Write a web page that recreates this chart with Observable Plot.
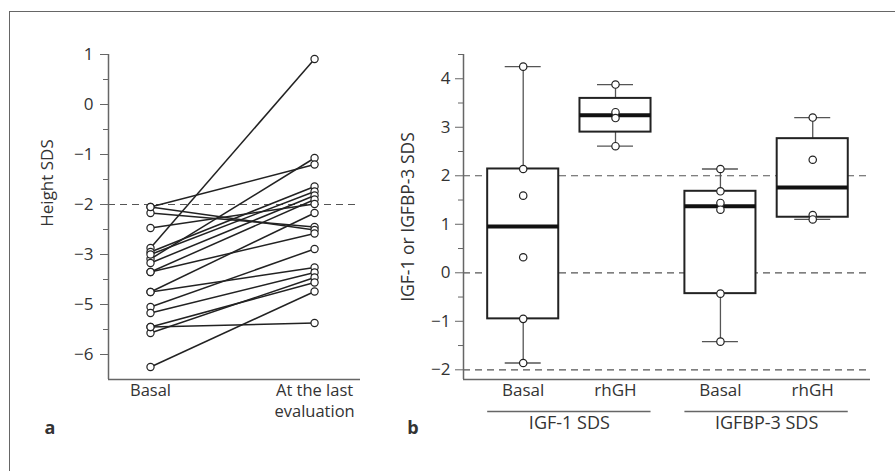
<!DOCTYPE html>
<html><head><meta charset="utf-8">
<script src="https://cdn.jsdelivr.net/npm/d3@7"></script>
<script src="https://cdn.jsdelivr.net/npm/@observablehq/plot@0.6"></script>
<style>
body{margin:0;background:#fff;}
#fig{position:relative;width:895px;height:471px;font-family:"Open Sans",sans-serif;color:#333;overflow:hidden;background:#fff;}
#fig .frame{position:absolute;left:9px;top:11px;right:-10px;bottom:-10px;border-left:1px solid #666;border-top:1px solid #666;}
.panel{position:absolute;top:0;}
.tag{position:absolute;font-weight:bold;font-size:18px;line-height:18px;transform:translate(-50%,-50%);}
</style></head><body>
<div id="fig"><div class="frame"></div></div>
<script>
// ---------- Panel a data ----------
const stages = ["Basal", "At the last evaluation"];
const heightBasal = [-2.87, -3.09, -2.05, -2.95, -3.00, -3.17, -3.35, -2.47, -3.75, -2.17, -2.05, -3.35, -4.05, -3.75, -4.17, -4.57, -4.45, -5.25, -4.45];
const heightLast  = [ 0.91, -1.07, -1.20, -1.64, -1.74, -1.82, -1.90, -1.99, -2.17, -2.45, -2.51, -2.58, -2.89, -3.26, -3.36, -3.46, -3.56, -3.74, -4.37];
const heightTicks = [1, 0, -1, -2, -3, -4, -5];
const heightTickLabels = ["1", "0", "−1", "−2", "−3", "−5", "−6"];
const heightMinorTicks = [0.5, -0.5, -1.5, -2.5, -3.5, -4.5];
const heightRef = [-2];
const heightTitle = "Height SDS";

// ---------- Panel b data ----------
const groups = ["IGF-1 SDS", "IGFBP-3 SDS"];
const conditions = ["Basal", "rhGH"];
const igf1Basal   = [4.25, 2.14, 1.59, 0.32, -0.95, -1.86];
const igf1RhGH    = [3.88, 3.31, 3.19, 2.61];
const igfbp3Basal = [2.14, 1.68, 1.44, 1.30, -0.43, -1.42];
const igfbp3RhGH  = [3.20, 2.33, 1.19, 1.10];
const sdsTicks = [-2, -1, 0, 1, 2, 3, 4];
const sdsMinorTicks = [-1.5, -0.5, 0.5, 1.5, 2.5, 3.5, 4.5];
const sdsRef = [-2, 0, 2];
const sdsTitle = "IGF-1 or IGFBP-3 SDS";

const minus = d => (d < 0 ? "\u2212" + Math.abs(d) : String(d));
const FONT = '"Open Sans", sans-serif';
const AX = "#666", INK = "#222", TXT = "#333";

// ---------- Panel a ----------
const pairs = heightBasal.map((b, i) => ({basal: b, last: heightLast[i]}));
const pts = pairs.flatMap(p => [{stage: 0, v: p.basal}, {stage: 1, v: p.last}]);
// split long stage labels into two lines (last word on the second line)
const stageLines = stages.map((s, i) => {
  const w = s.split(" ");
  return w.length > 2 ? {i, l1: w.slice(0, -1).join(" "), l2: w[w.length - 1]} : {i, l1: s, l2: ""};
});
const xA = [-0.256, 1.28], yA = [-5.5, 1];

const plotA = Plot.plot({
  width: 380, height: 471,
  marginLeft: 108, marginRight: 20, marginTop: 54, marginBottom: 92,
  style: {fontFamily: FONT, fontSize: "17px", color: TXT, background: "transparent"},
  x: {domain: xA, axis: null},
  y: {domain: yA, axis: null},
  marks: [
    Plot.ruleY(heightRef, {stroke: "#555", strokeWidth: 1.2, strokeDasharray: "7,5"}),
    Plot.ruleX([xA[0]], {stroke: AX, strokeWidth: 1.5}),
    Plot.ruleY([yA[0]], {stroke: AX, strokeWidth: 1.5}),
    Plot.axisY({ticks: heightTicks, tickFormat: d => heightTickLabels[heightTicks.indexOf(d)], tickSize: 8, tickPadding: 7, stroke: AX, fill: TXT, label: null, fontSize: 17}),
    Plot.axisY({ticks: heightMinorTicks, tickFormat: () => "", tickSize: 5, stroke: AX, label: null}),
    Plot.link(pairs, {x1: () => 0, y1: "basal", x2: () => 1, y2: "last", stroke: INK, strokeWidth: 1.5}),
    Plot.dot(pts, {x: "stage", y: "v", r: 3.6, fill: "white", stroke: INK, strokeWidth: 1.2}),
    Plot.text(stageLines, {x: "i", frameAnchor: "bottom", text: "l1", fontSize: 16.5, fill: TXT, dy: 16}),
    Plot.text(stageLines, {x: "i", frameAnchor: "bottom", text: "l2", fontSize: 16.5, fill: TXT, dy: 37}),
    Plot.text([heightTitle], {frameAnchor: "left", textAnchor: "middle", rotate: -90, dx: -61, dy: -34, text: d => d, fontSize: 17, fill: TXT})
  ]
});
plotA.classList.add("panel");
plotA.style.left = "0px";
document.getElementById("fig").appendChild(plotA);

// ---------- Panel b ----------
function hinges(values) {
  const v = values.slice().sort(d3.ascending), n = v.length;
  return {
    min: v[0], max: v[n - 1],
    q1: d3.median(v.slice(0, Math.ceil(n / 2))),
    median: d3.median(v),
    q3: d3.median(v.slice(Math.floor(n / 2)))
  };
}
const groupGap = 0.137, boxHalf = 0.385, capHalf = 0.195;
const series = [[igf1Basal, igf1RhGH], [igfbp3Basal, igfbp3RhGH]];
const boxes = [];
const dots = [];
series.forEach((grp, gi) => grp.forEach((vals, si) => {
  const slot = gi * (2 + groupGap) + si;
  boxes.push({group: groups[gi], cond: conditions[si], slot, ...hinges(vals)});
  vals.forEach(v => dots.push({slot, v}));
}));
const groupSpans = groups.map((g, gi) => {
  const s = boxes.filter(b => b.group === g).map(b => b.slot);
  return {group: g, x1: d3.min(s) - boxHalf, x2: d3.max(s) + boxHalf, cx: (d3.min(s) + d3.max(s)) / 2};
});
const xB = [-0.647, 3.763], yB = [-2.2, 4.5];

const plotB = Plot.plot({
  width: 515, height: 471,
  marginLeft: 83, marginRight: 25, marginTop: 54, marginBottom: 92,
  style: {fontFamily: FONT, fontSize: "17px", color: TXT, background: "transparent"},
  x: {domain: xB, axis: null},
  y: {domain: yB, axis: null},
  marks: [
    Plot.ruleY(sdsRef, {stroke: "#555", strokeWidth: 1.2, strokeDasharray: "7,5"}),
    Plot.ruleX([xB[0]], {stroke: AX, strokeWidth: 1.5}),
    Plot.ruleY([yB[0]], {stroke: AX, strokeWidth: 1.5}),
    Plot.axisY({ticks: sdsTicks, tickFormat: minus, tickSize: 8, tickPadding: 5, stroke: AX, fill: TXT, label: null, fontSize: 17}),
    Plot.axisY({ticks: sdsMinorTicks, tickFormat: () => "", tickSize: 5, stroke: AX, label: null}),
    Plot.ruleX(boxes, {x: "slot", y1: "min", y2: "q1", stroke: "#555", strokeWidth: 1.3}),
    Plot.ruleX(boxes, {x: "slot", y1: "q3", y2: "max", stroke: "#555", strokeWidth: 1.3}),
    Plot.ruleY(boxes, {y: "min", x1: d => d.slot - capHalf, x2: d => d.slot + capHalf, stroke: "#555", strokeWidth: 1.3}),
    Plot.ruleY(boxes, {y: "max", x1: d => d.slot - capHalf, x2: d => d.slot + capHalf, stroke: "#555", strokeWidth: 1.3}),
    Plot.rect(boxes, {x1: d => d.slot - boxHalf, x2: d => d.slot + boxHalf, y1: "q1", y2: "q3", fill: "white", stroke: INK, strokeWidth: 2}),
    Plot.ruleY(boxes, {y: "median", x1: d => d.slot - boxHalf, x2: d => d.slot + boxHalf, stroke: "#111", strokeWidth: 4}),
    Plot.dot(dots, {x: "slot", y: "v", r: 3.7, fill: "white", stroke: INK, strokeWidth: 1.2}),
    Plot.text(boxes, {x: "slot", frameAnchor: "bottom", dy: 16, text: "cond", fontSize: 17, fill: TXT}),
    Plot.ruleY(groupSpans, {y: () => yB[0], x1: "x1", x2: "x2", dy: 32, stroke: AX, strokeWidth: 1.3}),
    Plot.text(groupSpans, {x: "cx", frameAnchor: "bottom", dy: 49, text: "group", fontSize: 18, fill: TXT}),
    Plot.text([sdsTitle], {frameAnchor: "left", textAnchor: "middle", rotate: -90, dx: -55, text: d => d, fontSize: 17.5, fill: TXT})
  ]
});
plotB.classList.add("panel");
plotB.style.left = "380px";
document.getElementById("fig").appendChild(plotB);

// panel tags
[["a", 50, 427], ["b", 413, 427]].forEach(([t, x, y]) => {
  const s = document.createElement("div");
  s.className = "tag"; s.textContent = t;
  s.style.left = x + "px"; s.style.top = y + "px";
  document.getElementById("fig").appendChild(s);
});
</script>
</body></html>
